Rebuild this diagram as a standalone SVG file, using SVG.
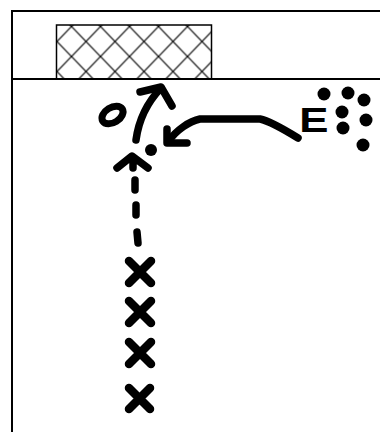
<svg xmlns="http://www.w3.org/2000/svg" width="380" height="432" viewBox="0 0 380 432">
<style>
.court{fill:none;stroke:#000;stroke-width:2}
.ink{fill:none;stroke:#000;stroke-width:7.5;stroke-linecap:round;stroke-linejoin:round}
.xm{fill:none;stroke:#000;stroke-width:8.5;stroke-linecap:round}
.dot{fill:#000}
.lbl{font-family:"Liberation Sans",Arial,sans-serif;font-weight:bold;font-size:35px;fill:#000}
</style>
<defs>
<pattern id="hatch" patternUnits="userSpaceOnUse" x="158.5" y="26.5" width="29" height="30">
<path d="M0,0 L29,30 M29,0 L0,30" stroke="#000" stroke-width="1.2" fill="none"/>
</pattern>
</defs>
<rect width="380" height="432" fill="#fff"/>
<g id="court">
<path class="court" d="M12,432 L12,11 L380,11"/>
<path class="court" d="M12,79 L380,79"/>
<rect x="56.5" y="25" width="155" height="54" fill="url(#hatch)" stroke="#000" stroke-width="1.5"/>
</g>
<g id="connectors">
<path class="ink" d="M136,140 Q140,110 161,88"/>
<path class="ink" d="M140,92 L161,87 L172,106"/>
<path class="ink" d="M298,138 C285,130 270,121 260,119 L200,119 C190,121 176,130 168,142"/>
<path class="ink" d="M167,129 L167,143 L187,143"/>
<path class="ink" d="M117,168 L132,156 L148,168 M133,157 L133,168"/>
<path class="ink" d="M135,180 L135,190 M136,205 L136,215 M137,232 L138,243"/>
</g>
<g id="node-o">
<ellipse cx="112.5" cy="115" rx="11.5" ry="7.5" transform="rotate(-32 112.5 115)" fill="none" stroke="#000" stroke-width="7"/>
</g>
<g id="node-ball">
<circle class="dot" cx="151" cy="150" r="6"/>
</g>
<g id="node-e">
<text class="lbl" transform="translate(302,132) scale(1.25,1)" x="-2.3" y="0">E</text>
</g>
<g id="node-dots">
<circle class="dot" cx="324" cy="94" r="6.5"/>
<circle class="dot" cx="348" cy="93" r="6.5"/>
<circle class="dot" cx="364" cy="100" r="6.5"/>
<circle class="dot" cx="342" cy="112" r="6.5"/>
<circle class="dot" cx="366" cy="120" r="6.5"/>
<circle class="dot" cx="343" cy="128" r="6.5"/>
<circle class="dot" cx="363" cy="145" r="6.5"/>
</g>
<g id="node-x1"><path class="xm" d="M129,261 L151,283 M151,261 L129,283"/></g>
<g id="node-x2"><path class="xm" d="M129,301 L151,323 M151,301 L129,323"/></g>
<g id="node-x3"><path class="xm" d="M129,342 L151,364 M151,342 L129,364"/></g>
<g id="node-x4"><path class="xm" d="M129,388 L150,409 M150,388 L129,409"/></g>
</svg>
